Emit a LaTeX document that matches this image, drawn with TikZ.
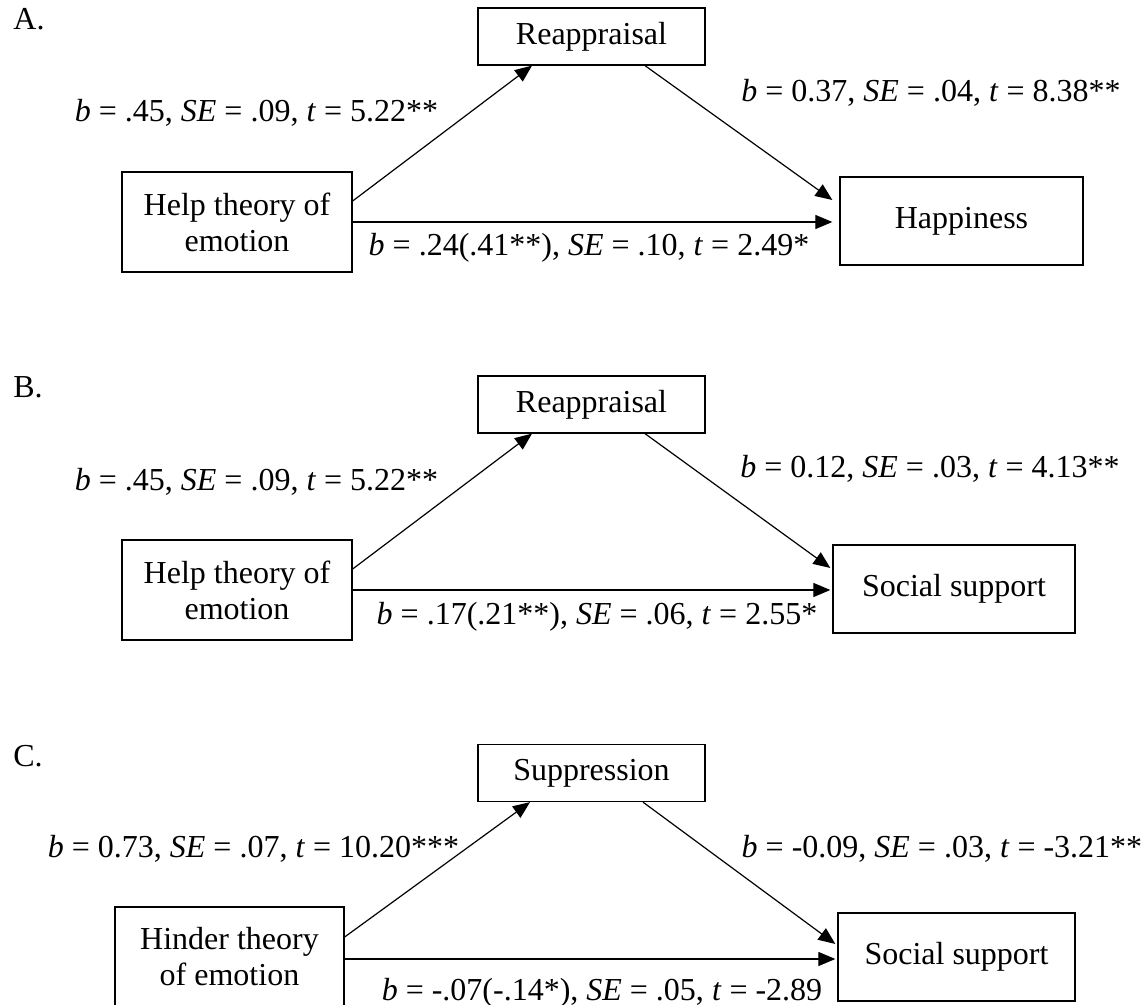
\documentclass[tikz,border=0pt]{standalone}
\usepackage{fontspec}
\setmainfont{Liberation Serif}
\usetikzlibrary{arrows.meta}
\newcommand{\myfs}{\fontsize{16pt}{18pt}\selectfont}
\newcommand{\vi}[1]{\textit{#1}}
\begin{document}
\begin{tikzpicture}[x=0.5pt,y=-0.5pt,
  box/.style={draw=black, line width=0.65pt, inner sep=0pt, font=\myfs, align=center},
  lbl/.style={inner sep=0pt, font=\myfs, anchor=base},
  plbl/.style={inner sep=0pt, font=\myfs, anchor=base west},
  arr/.style={line width=0.6pt, -{Triangle[length=8.5pt,width=7pt]}}]
\useasboundingbox (0,0) rectangle (1146,1005);
\clip (0,0) rectangle (1146,1005);

% ---------------- Panel A ----------------
\node[plbl] (pa) at (13,30) {A.};
\node[box, minimum width=113.5pt, minimum height=28.5pt] (ra) at (591.5,36.5) {Reappraisal};
\node[box, minimum width=115pt, minimum height=50pt] (ha) at (237,222) {Help theory of\\emotion};
\node[box, minimum width=121.5pt, minimum height=44pt] (hp) at (961.5,221) {Happiness};
\draw[arr] ([yshift=10.5pt]ha.east) -- ([xshift=-29.75pt]ra.south);
\draw[arr] ([xshift=26.75pt]ra.south) -- ([xshift=-3.5pt,yshift=10.5pt]hp.west);
\draw[arr] (ha.east) -- ([xshift=-3.5pt]ha.east -| hp.west);
\node[lbl] (la1) at (256.5,122) {\vi{b} = .45, \vi{SE} = .09, \vi{t} = 5.22**};
\node[lbl] (la2) at (931,102) {\vi{b} = 0.37, \vi{SE} = .04, \vi{t} = 8.38**};
\node[lbl] (la3) at (589,256) {\vi{b} = .24(.41**), \vi{SE} = .10, \vi{t} = 2.49*};

% ---------------- Panel B ----------------
\node[plbl] (pb) at (13,398) {B.};
\node[box, minimum width=113.5pt, minimum height=28.5pt] (rb) at (591.5,404.5) {Reappraisal};
\node[box, minimum width=115pt, minimum height=50pt] (hb) at (237,590) {Help theory of\\emotion};
\node[box, minimum width=121pt, minimum height=44pt] (sb) at (954,589) {Social support};
\draw[arr] ([yshift=10.5pt]hb.east) -- ([xshift=-29.75pt]rb.south);
\draw[arr] ([xshift=26.75pt]rb.south) -- ([xshift=-1pt,yshift=10.5pt]sb.west);
\draw[arr] (hb.east) -- ([xshift=-1pt]hb.east -| sb.west);
\node[lbl] (lb1) at (256.5,490) {\vi{b} = .45, \vi{SE} = .09, \vi{t} = 5.22**};
\node[lbl] (lb2) at (930,478) {\vi{b} = 0.12, \vi{SE} = .03, \vi{t} = 4.13**};
\node[lbl] (lb3) at (597,624) {\vi{b} = .17(.21**), \vi{SE} = .06, \vi{t} = 2.55*};

% ---------------- Panel C ----------------
\node[plbl] (pc) at (13,766) {C.};
\node[box, minimum width=113.5pt, minimum height=28.5pt] (sc) at (591.5,773) {Suppression};
\node[box, minimum width=114.5pt, minimum height=50pt] (hc) at (229.5,957) {Hinder theory\\of emotion};
\node[box, minimum width=118.5pt, minimum height=44pt] (ssc) at (956.5,957) {Social support};
\draw[arr] ([yshift=10pt]hc.east) -- ([xshift=-30.75pt]sc.south);
\draw[arr] ([xshift=25.75pt]sc.south) -- ([xshift=-1pt,yshift=6.5pt]ssc.west);
\draw[arr] ([yshift=-1pt]hc.east) -- ([xshift=-1pt,yshift=-1pt]hc.east -| ssc.west);
\node[lbl] (lc1) at (253.5,857) {\vi{b} = 0.73, \vi{SE} = .07, \vi{t} = 10.20***};
\node[lbl] (lc2) at (942,857) {\vi{b} = -0.09, \vi{SE} = .03, \vi{t} = -3.21**};
\node[lbl] (lc3) at (602,1000) {\vi{b} = -.07(-.14*), \vi{SE} = .05, \vi{t} = -2.89};
\end{tikzpicture}
\end{document}
